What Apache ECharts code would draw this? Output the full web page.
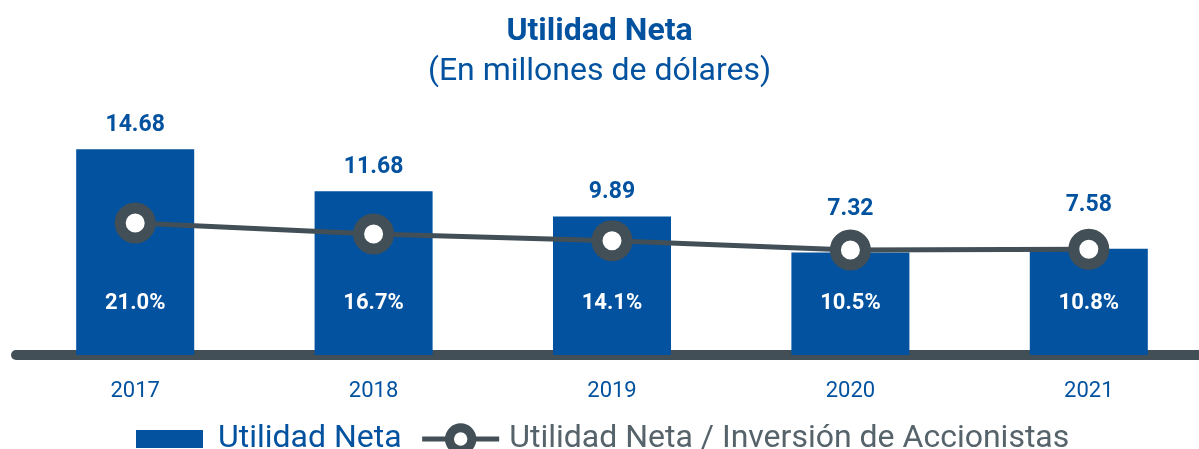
<!DOCTYPE html>
<html>
<head>
<meta charset="utf-8">
<script src="https://cdn.jsdelivr.net/npm/echarts@6/dist/echarts.min.js"></script>
<style>
  html, body { margin: 0; padding: 0; background: #fff; }
  #chart { width: 1199px; height: 449px; }
</style>
</head>
<body>
<div id="chart"></div>
<script>
  const years = ['2017', '2018', '2019', '2020', '2021']
  const utilidad = [14.68, 11.68, 9.89, 7.32, 7.58]
  const ratio = [21.0, 16.7, 14.1, 10.5, 10.8]

  const blue = '#03529f'
  const dark = '#424f56'

  const chart = echarts.init(document.getElementById('chart'))
  chart.setOption({
    animation: false,
    textStyle: { fontFamily: 'Roboto' },
    title: {
      text: 'Utilidad Neta',
      subtext: '(En millones de dólares)',
      left: 'center',
      top: 11,
      itemGap: 8,
      textStyle: { color: blue, fontSize: 32, fontWeight: 'bold', fontFamily: 'Roboto' },
      subtextStyle: { color: blue, fontSize: 32, fontFamily: 'Roboto' }
    },
    legend: {
      left: 121,
      top: 415,
      itemGap: 18,
      itemWidth: 77,
      itemHeight: 28,
      textStyle: { fontSize: 32, fontFamily: 'Roboto', padding: [0, 0, 0, 5] },
      data: [
        {
          name: 'Utilidad Neta',
          icon: 'rect',
          itemStyle: { color: blue, borderColor: '#fff', borderWidth: 10 },
          textStyle: { color: blue }
        },
        {
          name: 'Utilidad Neta / Inversión de Accionistas',
          itemStyle: { color: '#fff', borderColor: dark, borderWidth: 9 },
          lineStyle: { color: dark, width: 5 },
          textStyle: { color: '#56636b' }
        }
      ]
    },
    grid: { left: 16, width: 1192, top: 100, bottom: 94, outerBoundsMode: 'none' },
    xAxis: {
      type: 'category',
      data: years,
      axisTick: { show: false },
      axisLine: { lineStyle: { color: dark, width: 10, cap: 'round' } },
      axisLabel: { color: blue, fontSize: 22, margin: 25 }
    },
    yAxis: [
      { type: 'value', min: 0, max: 18.2, show: false },
      { type: 'value', min: -30.4, max: 68.9, show: false }
    ],
    series: [
      {
        name: 'Utilidad Neta',
        type: 'bar',
        barWidth: '49.5%',
        itemStyle: { color: blue },
        data: utilidad.map((v, i) => ({
          value: v,
          label: { distance: i >= 3 ? 32 : 13 }
        })),
        label: {
          show: true,
          position: 'top',
          color: blue,
          fontSize: 23,
          fontWeight: 'bold',
          formatter: p => p.value.toFixed(2)
        }
      },
      {
        name: 'pct',
        type: 'bar',
        barWidth: '49.5%',
        barGap: '-100%',
        itemStyle: { color: 'rgba(0,0,0,0)' },
        data: utilidad,
        label: {
          show: true,
          position: 'insideBottom',
          distance: 41,
          color: '#fff',
          fontSize: 22,
          fontWeight: 'bold',
          formatter: p => ratio[p.dataIndex].toFixed(1) + '%'
        }
      },
      {
        name: 'Utilidad Neta / Inversión de Accionistas',
        type: 'line',
        yAxisIndex: 1,
        data: ratio,
        symbol: 'circle',
        symbolSize: 30,
        lineStyle: { color: dark, width: 5 },
        itemStyle: { color: '#fff', borderColor: dark, borderWidth: 11 },
        z: 5
      }
    ]
  })
</script>
</body>
</html>
